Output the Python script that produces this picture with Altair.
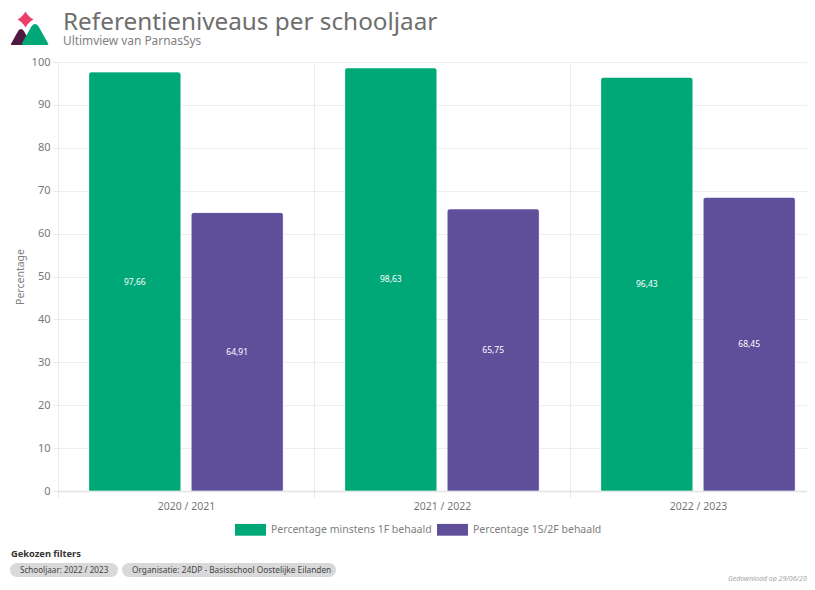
import altair as alt
import pandas as pd

years = ["2020 / 2021", "2021 / 2022", "2022 / 2023"]
series_names = ["Percentage minstens 1F behaald", "Percentage 1S/2F behaald"]
series_1f = [97.66, 98.63, 96.43]
series_2f = [64.91, 65.75, 68.45]
colors = ["#00A878", "#5F4F9B"]
FONT = "Noto Sans"
OX, OY = 58, 62


def px(v):
    return v - OX


def py(v):
    return v - OY


rows = []
for i, y in enumerate(years):
    rows.append({"year": y, "serie": series_names[0], "value": series_1f[i], "idx": 0})
    rows.append({"year": y, "serie": series_names[1], "value": series_2f[i], "idx": 1})
df = pd.DataFrame(rows)

x_enc = alt.X(
    "year:N",
    sort=years,
    title=None,
    scale=alt.Scale(domain=years, range=[0, 768], paddingInner=0, paddingOuter=0),
    axis=alt.Axis(
        labelAngle=0, labelColor="#777777", labelFont=FONT, labelFontSize=10.5, labelPadding=4,
        tickBand="extent", grid=True, gridColor="#EBEBEB", tickColor="#E3E3E3", tickSize=6,
        domainColor="#E3E3E3", domainWidth=1.5,
    ),
)
xo_enc = alt.XOffset(
    "serie:N", sort=series_names,
    scale=alt.Scale(domain=series_names, paddingInner=0.1, paddingOuter=0.3),
)

bars = alt.Chart(df).mark_bar(
    cornerRadiusTopLeft=3, cornerRadiusTopRight=3, stroke="#FFFFFF", strokeOpacity=0.35, strokeWidth=1,
).encode(
    x=x_enc,
    xOffset=xo_enc,
    y=alt.Y(
        "value:Q",
        title="Percentage",
        scale=alt.Scale(domain=[0, 100], nice=False),
        axis=alt.Axis(
            values=list(range(0, 101, 10)), grid=True, gridColor="#EEEEEE", tickColor="#E8E8E8", tickSize=5,
            domain=False, labelColor="#777777", labelFont=FONT, labelFontSize=11, labelPadding=3,
            titleColor="#808080", titleFont=FONT, titleFontSize=10.5, titleFontWeight="normal", titlePadding=6,
        ),
    ),
    color=alt.Color(
        "serie:N",
        sort=series_names,
        scale=alt.Scale(domain=series_names, range=colors),
        legend=alt.Legend(
            title=None, orient="none", direction="horizontal", legendX=px(235), legendY=py(514),
            symbolType="M-1,-0.38H1V0.38H-1Z", symbolSize=961, symbolStrokeWidth=0, symbolOpacity=1,
            labelFont=FONT, labelFontSize=10.5, labelColor="#808080", labelOffset=5, columnPadding=5,
            labelLimit=300,
        ),
    ),
)

labels = alt.Chart(df).transform_calculate(
    mid="datum.value / 2",
    lab="replace(format(datum.value, '.2f'), '.', ',')",
).mark_text(color="#FFFFFF", font=FONT, fontSize=8.5).encode(
    x=alt.X("year:N", sort=years, title=None),
    xOffset=alt.XOffset("serie:N", sort=series_names),
    y=alt.Y("mid:Q"),
    text="lab:N",
)

ONE = alt.Data(values=[{"a": 1}])


def text(s, x, y, size, color, weight="normal", style="normal", align="left"):
    return alt.Chart(ONE).mark_text(
        text=s, font=FONT, fontSize=size, color=color, fontWeight=weight, fontStyle=style,
        align=align, baseline="alphabetic",
    ).encode(x=alt.value(px(x)), y=alt.value(py(y)))


def chip(x0, x1, y0, y1):
    return alt.Chart(ONE).mark_rect(fill="#D9D9D9", cornerRadius=7).encode(
        x=alt.value(px(x0)), x2=alt.value(px(x1)), y=alt.value(py(y0)), y2=alt.value(py(y1))
    )


def glyph(path, x, y, span, color):
    return alt.Chart(ONE).mark_point(
        shape=path, size=span * span, filled=True, fill=color, opacity=1, strokeWidth=0
    ).encode(x=alt.value(px(x)), y=alt.value(py(y)))


TRI = "M0,-0.8 C0.1,-0.8 0.2,-0.72 0.3,-0.58 L1,0.68 C1.05,0.8 1,0.8 0.9,0.8 L-0.9,0.8 C-1,0.8 -1.05,0.8 -1,0.68 L-0.3,-0.58 C-0.2,-0.72 -0.1,-0.8 0,-0.8Z"
STAR = "M0,-1 C0.25,-0.55 0.55,-0.25 1,0 C0.55,0.25 0.25,0.55 0,1 C-0.25,0.55 -0.55,0.25 -1,0 C-0.55,-0.25 -0.25,-0.55 0,-1Z"

deco = [
    glyph(STAR, 25.5, 19.5, 16, "#EE3F6B"),
    glyph(TRI, 21, 37, 20, "#4F1A42"),
    glyph(TRI, 35, 34.5, 26, "#00A878"),
    text("Referentieniveaus per schooljaar", 63, 30, 24.3, "#6E6E6E"),
    text("Ultimview van ParnasSys", 63, 45, 11.9, "#808080"),
    text("Gekozen filters", 11, 557, 9.3, "#333333", weight="bold"),
    chip(10, 118, 563, 577),
    chip(122, 336, 563, 577),
    text("Schooljaar: 2022 / 2023", 20, 573, 8.1, "#444444"),
    text("Organisatie: 24DP - Basisschool Oostelijke Eilanden", 132, 573, 8.3, "#444444"),
    text("Gedownload op 29/06/20", 728, 581, 7, "#A6A6A6", style="italic"),
]

chart = alt.layer(bars, labels, *deco).resolve_scale(color="independent").properties(
    width=749,
    height=429,
    autosize=alt.AutoSizeParams(type="none"),
    padding={"left": OX - 8, "top": OY - 8, "right": 0, "bottom": 91},
    background="white",
).configure_view(stroke=None)

chart.save("out.html", embed_options={"renderer": "svg", "actions": False})
